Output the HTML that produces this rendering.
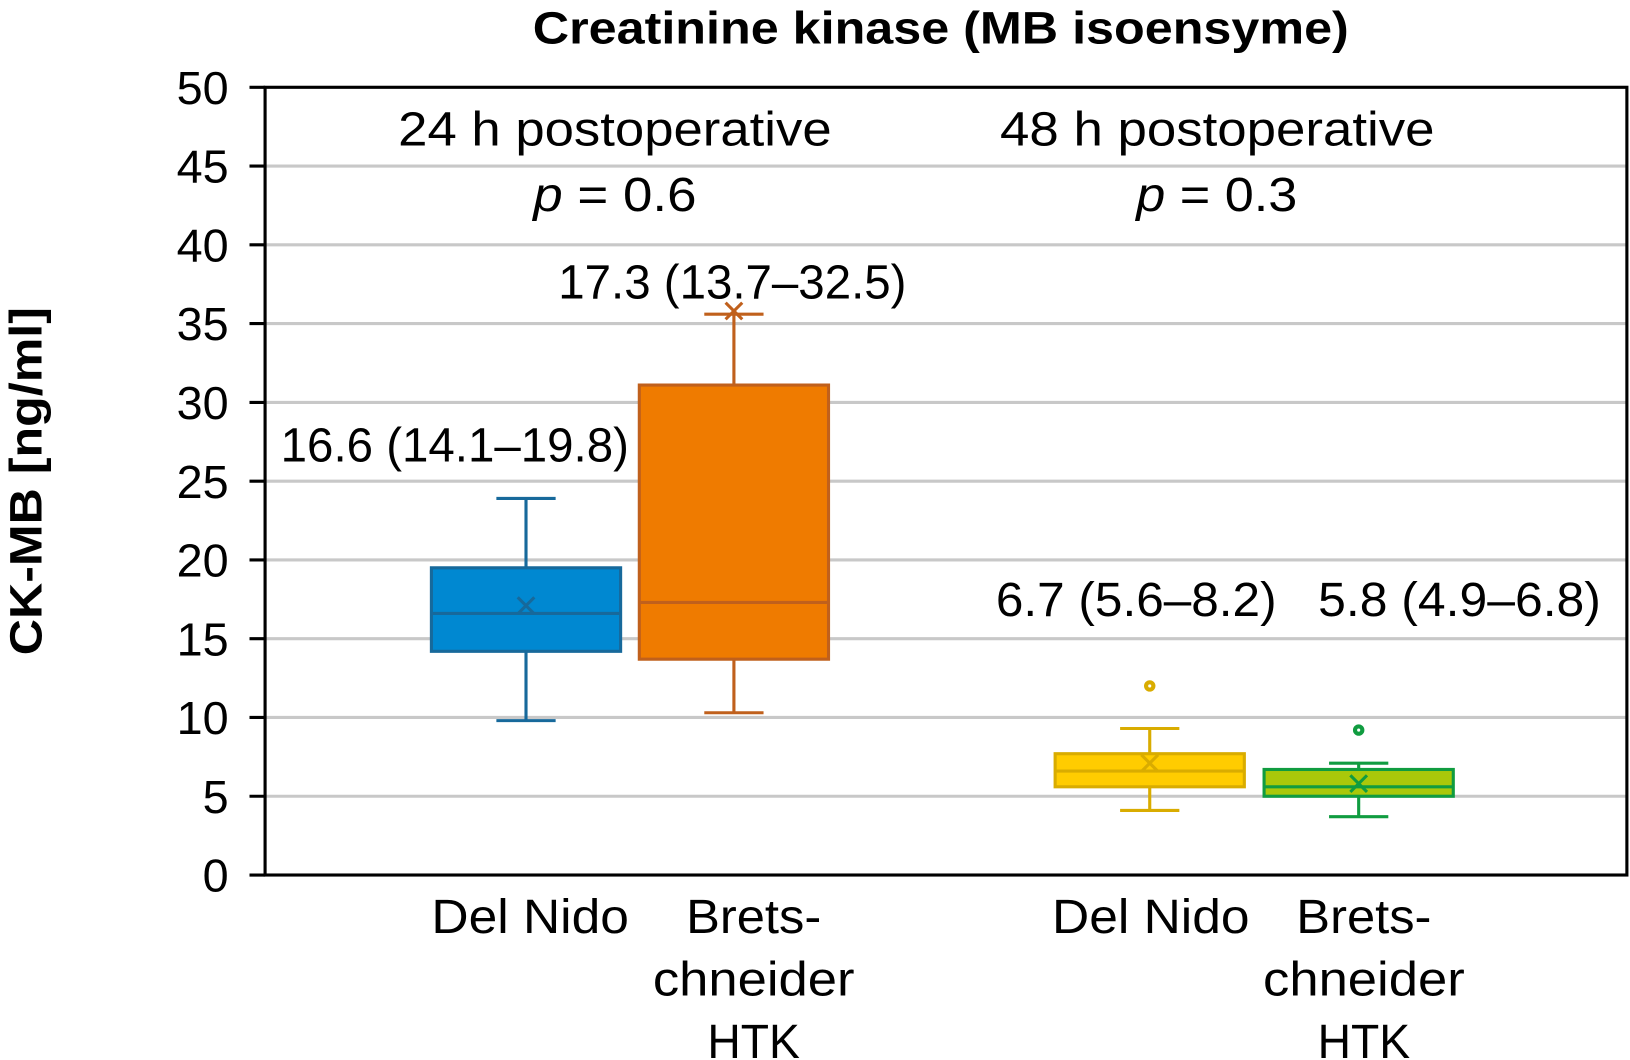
<!DOCTYPE html>
<html><head><meta charset="utf-8"><style>
html,body{margin:0;padding:0;background:#fff;}
svg{display:block;}
text{font-family:"Liberation Sans",sans-serif;fill:#000;}
</style></head><body>
<svg id="chart" width="1630" height="1060" viewBox="0 0 1568 1020" preserveAspectRatio="none" xmlns="http://www.w3.org/2000/svg">
<g id="grid"></g>
<g id="yaxis"></g>
<g id="boxes"></g>
<text x="905" y="42" text-anchor="middle" font-size="44" font-weight="bold" textLength="785" lengthAdjust="spacingAndGlyphs">Creatinine kinase (MB isoensyme)</text>
<text transform="translate(40,463) rotate(-90)" text-anchor="middle" font-size="44" font-weight="bold" textLength="335" lengthAdjust="spacingAndGlyphs">CK-MB [ng/ml]</text>
<text x="383" y="140" font-size="46" textLength="417" lengthAdjust="spacingAndGlyphs">24 h postoperative</text>
<text x="962" y="140" font-size="46" textLength="418" lengthAdjust="spacingAndGlyphs">48 h postoperative</text>
<text x="513" y="203" font-size="46" textLength="157" lengthAdjust="spacingAndGlyphs"><tspan font-style="italic">p</tspan> = 0.6</text>
<text x="1093" y="203" font-size="46" textLength="155" lengthAdjust="spacingAndGlyphs"><tspan font-style="italic">p</tspan> = 0.3</text>
<text x="537" y="287" font-size="46" textLength="335" lengthAdjust="spacingAndGlyphs">17.3 (13.7–32.5)</text>
<text x="270" y="444" font-size="46" textLength="335" lengthAdjust="spacingAndGlyphs">16.6 (14.1–19.8)</text>
<text x="958" y="593" font-size="46" textLength="270" lengthAdjust="spacingAndGlyphs">6.7 (5.6–8.2)</text>
<text x="1268" y="593" font-size="46" textLength="272" lengthAdjust="spacingAndGlyphs">5.8 (4.9–6.8)</text>
<g font-size="46">
<text x="415" y="898" textLength="190" lengthAdjust="spacingAndGlyphs">Del Nido</text>
<text x="725" y="898" text-anchor="middle" textLength="130" lengthAdjust="spacingAndGlyphs">Brets-</text>
<text x="725" y="958" text-anchor="middle" textLength="194" lengthAdjust="spacingAndGlyphs">chneider</text>
<text x="725" y="1018" text-anchor="middle" textLength="89" lengthAdjust="spacingAndGlyphs">HTK</text>
<text x="1012" y="898" textLength="190" lengthAdjust="spacingAndGlyphs">Del Nido</text>
<text x="1312" y="898" text-anchor="middle" textLength="130" lengthAdjust="spacingAndGlyphs">Brets-</text>
<text x="1312" y="958" text-anchor="middle" textLength="194" lengthAdjust="spacingAndGlyphs">chneider</text>
<text x="1312" y="1018" text-anchor="middle" textLength="89" lengthAdjust="spacingAndGlyphs">HTK</text>
</g>
<rect x="255" y="84" width="1310" height="758" fill="none" stroke="#000" stroke-width="3"/>
</svg>
<script>
const yTicks = [0,5,10,15,20,25,30,35,40,45,50];
const groups = ["Del Nido 24h","Bretschneider HTK 24h","Del Nido 48h","Bretschneider HTK 48h"];
const whiskerLow = [9.8,10.3,4.1,3.7];
const q1 = [14.2,13.7,5.6,5.0];
const median = [16.6,17.3,6.6,5.6];
const q3 = [19.5,31.1,7.7,6.7];
const whiskerHigh = [23.9,35.6,9.3,7.1];
const means = [17.1,35.8,7.1,5.8];
const outliers = [[],[],[12.0],[9.2]];

const NS="http://www.w3.org/2000/svg";
const fills=["#0088d1","#ef7b00","#ffcc00","#aac80a"];
const strokes=["#17699b","#c0601c","#d9ac00","#109c40"];
const centers=[506,706,1106,1307];
const boxW=182, capW=57;
function yScale(v){return 842-(v/50)*758;}
function mk(tag,attrs,parent){const e=document.createElementNS(NS,tag);for(const k in attrs)e.setAttribute(k,attrs[k]);parent.appendChild(e);return e;}
const grid=document.getElementById('grid'), yax=document.getElementById('yaxis'), bx=document.getElementById('boxes');
yTicks.forEach(t=>{
  const y=yScale(t);
  if(t>0&&t<50){const g=mk('line',{x1:255,x2:1565,y1:y,y2:y,stroke:'#c8c8c8','stroke-width':3},grid);
  
  }
  const tk=mk('line',{x1:240,x2:255,y1:y,y2:y,stroke:'#000','stroke-width':3},yax);
  
  
  const tx=mk('text',{x:220,y:y+16,'text-anchor':'end','font-size':45},yax);
  tx.textContent=String(t);
  
  
});
groups.forEach((g,i)=>{
  const c=centers[i], s=strokes[i];
  const grp=mk('g',{},bx);
  
  
  const st={stroke:s,'stroke-width':3};
  mk('line',Object.assign({x1:c,x2:c,y1:yScale(whiskerHigh[i]),y2:yScale(q3[i])},st),grp);
  mk('line',Object.assign({x1:c,x2:c,y1:yScale(q1[i]),y2:yScale(whiskerLow[i])},st),grp);
  mk('line',Object.assign({x1:c-capW/2,x2:c+capW/2,y1:yScale(whiskerHigh[i]),y2:yScale(whiskerHigh[i])},st),grp);
  mk('line',Object.assign({x1:c-capW/2,x2:c+capW/2,y1:yScale(whiskerLow[i]),y2:yScale(whiskerLow[i])},st),grp);
  const r=mk('rect',{x:c-boxW/2,y:yScale(q3[i]),width:boxW,height:yScale(q1[i])-yScale(q3[i]),fill:fills[i],stroke:s,'stroke-width':3},grp);
  
  
  const m=mk('line',Object.assign({x1:c-boxW/2,x2:c+boxW/2,y1:yScale(median[i]),y2:yScale(median[i])},st),grp);
  
  
  const my=yScale(means[i]), d=8;
  mk('path',{d:`M${c-d},${my-d}L${c+d},${my+d}M${c+d},${my-d}L${c-d},${my+d}`,stroke:s,'stroke-width':3,fill:'none'},grp);
  outliers[i].forEach(o=>{
    const p=mk('circle',{cx:c,cy:yScale(o),r:3.5,fill:'none',stroke:s,'stroke-width':4},grp);
    
    
  });
});
</script>
</body></html>
